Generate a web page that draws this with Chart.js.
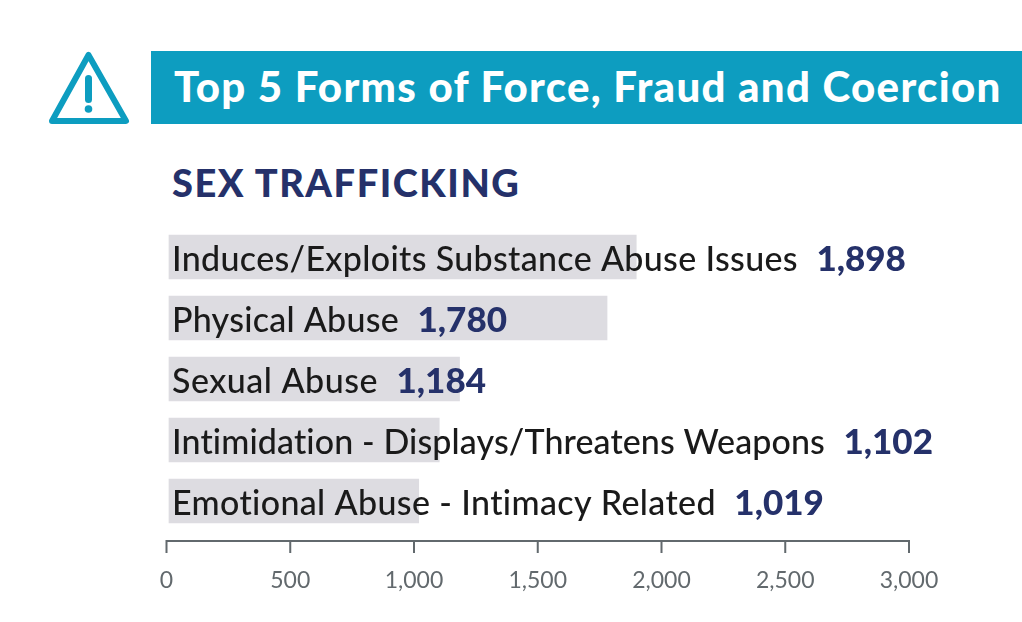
<!DOCTYPE html>
<html lang="en">
<head>
<meta charset="UTF-8" />
<title>Top 5 Forms of Force, Fraud and Coercion</title>
<script src="https://cdn.jsdelivr.net/npm/chart.js"></script>
<style>
  html, body { margin: 0; padding: 0; background: #fff; }
  body { width: 1022px; height: 622px; position: relative; overflow: hidden; font-family: Lato, sans-serif; }
  #banner {
    position: absolute; left: 151px; top: 51px; width: 871px; height: 73px;
    background: #0d9dc0; color: #fff; font-weight: 900; font-size: 42px;
    line-height: 71px; padding-left: 23px; box-sizing: border-box; white-space: nowrap;
    letter-spacing: 1.3px;
  }
  #icon { position: absolute; left: 47px; top: 49px; }
  #sub {
    position: absolute; left: 172px; top: 161px; color: #25316a; font-weight: 900;
    font-size: 38px; line-height: 42px; letter-spacing: 1.55px; white-space: nowrap;
  }
  #wrap { position: absolute; left: 0; top: 220px; width: 1022px; height: 402px; }
</style>
</head>
<body>
<svg id="icon" width="84" height="78" viewBox="0 0 84 78">
  <path d="M41.5 6 L79 72 L5 72 Z" fill="none" stroke="#0d9dc0" stroke-width="6" stroke-linejoin="round"/>
  <rect x="38" y="26" width="7" height="28" rx="3.5" fill="#0d9dc0"/>
  <circle cx="41.5" cy="60" r="3.8" fill="#0d9dc0"/>
</svg>
<div id="banner">Top 5 Forms of Force, Fraud and Coercion</div>
<div id="sub">SEX TRAFFICKING</div>
<div id="wrap"><canvas id="chart" width="1022" height="402"></canvas></div>
<script>
const categories = [
  "Induces/Exploits Substance Abuse Issues",
  "Physical Abuse",
  "Sexual Abuse",
  "Intimidation - Displays/Threatens Weapons",
  "Emotional Abuse - Intimacy Related"
];
const values = [1898, 1780, 1184, 1102, 1019];
const tickLabels = ["0", "500", "1,000", "1,500", "2,000", "2,500", "3,000"];
// letter spacing per row, so label widths line up with the original typeface
const labelTracking = [0.33, 0.26, 0.5, 0.11, 0.36];

// category text + value drawn on top of the bars
const barLabels = {
  id: "barLabels",
  afterDatasetsDraw(chart) {
    const ctx = chart.ctx;
    const x0 = chart.scales.x.getPixelForValue(0);
    chart.getDatasetMeta(0).data.forEach((bar, i) => {
      ctx.save();
      ctx.textBaseline = "middle";
      ctx.textAlign = "left";
      ctx.fillStyle = "#1a1a1a";
      ctx.font = "500 34px Lato";
      ctx.letterSpacing = labelTracking[i] + "px"; // also turns off the "ti" ligature
      ctx.fillText(categories[i], x0 + 5.5, bar.y + 3);
      const w = ctx.measureText(categories[i]).width;
      ctx.fillStyle = "#25316a";
      ctx.font = "900 35px Lato";
      ctx.letterSpacing = "0px";
      ctx.fillText(values[i].toLocaleString("en-US"), x0 + 5.5 + w + 18.5, bar.y + 3);
      ctx.restore();
    });
  }
};

new Chart(document.getElementById("chart"), {
  type: "bar",
  data: {
    labels: categories,
    datasets: [{
      data: values,
      base: 10,
      backgroundColor: "#dddce1",
      barThickness: 44,
      borderWidth: 0
    }]
  },
  options: {
    indexAxis: "y",
    responsive: false,
    animation: false,
    layout: { padding: { left: 166.5, right: 113, top: 6.5, bottom: 0 } },
    plugins: { legend: { display: false }, tooltip: { enabled: false } },
    scales: {
      x: {
        min: 0,
        max: 3000,
        afterFit: s => { s.height = 90.5; },
        grid: { display: false, drawTicks: false },
        border: { display: false },
        ticks: {
          stepSize: 500,
          padding: 35,
          color: "#62696d",
          font: { family: "Lato", size: 23 },
          maxRotation: 0,
          callback: (v, i) => tickLabels[i]
        }
      },
      y: {
        display: false,
        grid: { display: false }
      }
    }
  },
  plugins: [barLabels, {
    id: "axisLine",
    afterDraw(chart) {
      const ctx = chart.ctx, sx = chart.scales.x;
      const y = 321;
      ctx.save();
      ctx.strokeStyle = "#62696d";
      ctx.lineWidth = 2;
      ctx.beginPath();
      ctx.moveTo(sx.left - 1, y);
      ctx.lineTo(sx.right + 1, y);
      sx.ticks.forEach(t => {
        const px = sx.getPixelForValue(t.value);
        ctx.moveTo(px, y - 1);
        ctx.lineTo(px, y + 12);
      });
      ctx.stroke();
      ctx.restore();
    }
  }]
});
</script>
</body>
</html>
